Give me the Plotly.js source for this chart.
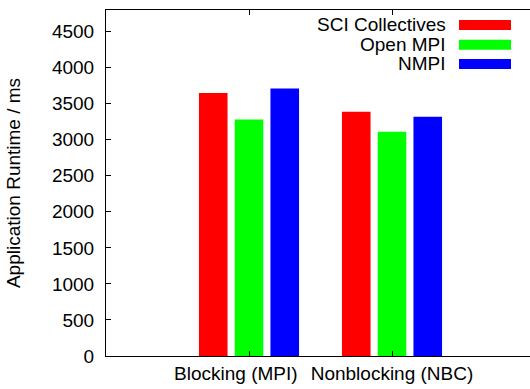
<!DOCTYPE html>
<html>
<head>
<meta charset="utf-8">
<script src="https://cdn.plot.ly/plotly-3.0.1.min.js"></script>
<style>
html,body{margin:0;padding:0;overflow:hidden;background:#fff;}
#chart{width:545px;height:389px;}
</style>
</head>
<body>
<div id="chart"></div>
<script>
// ---- data ----
var categories = ["Blocking (MPI)", "Nonblocking (NBC)"];
var seriesNames = ["SCI Collectives", "Open MPI", "NMPI"];
var sciCollectives = [3650, 3390];
var openMPI = [3280, 3110];
var nmpi = [3710, 3320];
var seriesColors = ["#ff0000", "#00ff00", "#0000ff"];
var yTickVals = [0, 500, 1000, 1500, 2000, 2500, 3000, 3500, 4000, 4500];

var seriesValues = [sciCollectives, openMPI, nmpi];

// ---- layout geometry ----
var W = 545, H = 389;
var M = {l: 106, r: 10, t: 10, b: 33};
var plotW = W - M.l - M.r, plotH = H - M.t - M.b;
function px(x) { return (x - M.l) / plotW; }
function py(y) { return (M.t + plotH - y) / plotH; }

var FONT = "Liberation Sans, Arial, Helvetica, sans-serif";
var FS = 19;

var traces = seriesValues.map(function (vals, i) {
  return {
    type: "bar",
    name: seriesNames[i],
    x: [0, 1],
    y: vals,
    marker: {color: seriesColors[i], line: {width: 0}},
    showlegend: false,
    hoverinfo: "y"
  };
});

// custom gnuplot-style legend: right-aligned text, swatch to the right
var annotations = [], shapes = [];
var rowY = [25, 44.7, 64];
seriesNames.forEach(function (name, i) {
  annotations.push({
    xref: "paper", yref: "paper",
    x: px(448), y: py(rowY[i]),
    xanchor: "right", yanchor: "middle",
    text: name, showarrow: false,
    font: {family: FONT, size: FS, color: "#000"}
  });
  shapes.push({
    type: "rect", xref: "paper", yref: "paper",
    x0: px(459), x1: px(511),
    y0: py(rowY[i] - 5), y1: py(rowY[i] + 5),
    fillcolor: seriesColors[i], line: {width: 0}
  });
});

// gnuplot label for the first group sits slightly left of its bar group
var tickText = [categories[0] + "\u00a0\u00a0\u00a0\u00a0\u00a0", categories[1]];

var layout = {
  width: W, height: H,
  margin: M,
  paper_bgcolor: "#fff", plot_bgcolor: "#fff",
  font: {family: FONT, size: FS, color: "#000"},
  barmode: "group",
  bargap: 0.25,
  bargroupgap: 0.2,
  xaxis: {
    range: [-1, 2],
    tickmode: "array",
    tickvals: [0, 1],
    ticktext: tickText,
    tickangle: 0,
    ticks: "inside", ticklen: 5, tickcolor: "#000",
    showline: true, linecolor: "#000", linewidth: 1, mirror: "ticks",
    showgrid: false, zeroline: false,
    tickfont: {family: FONT, size: FS, color: "#000"},
    ticklabelstandoff: 0
  },
  yaxis: {
    range: [0, 4800],
    tickmode: "array",
    tickvals: yTickVals,
    ticktext: yTickVals.map(String),
    ticks: "inside", ticklen: 5, tickcolor: "#000",
    showline: true, linecolor: "#000", linewidth: 1, mirror: "ticks",
    showgrid: false, zeroline: false,
    tickfont: {family: FONT, size: FS, color: "#000"},
    ticklabelstandoff: 7,
    title: {text: "Application Runtime / ms", font: {family: FONT, size: FS, color: "#000"}, standoff: 26}
  },
  annotations: annotations,
  shapes: shapes
};

Plotly.newPlot("chart", traces, layout, {displayModeBar: false, staticPlot: true});
</script>
</body>
</html>
